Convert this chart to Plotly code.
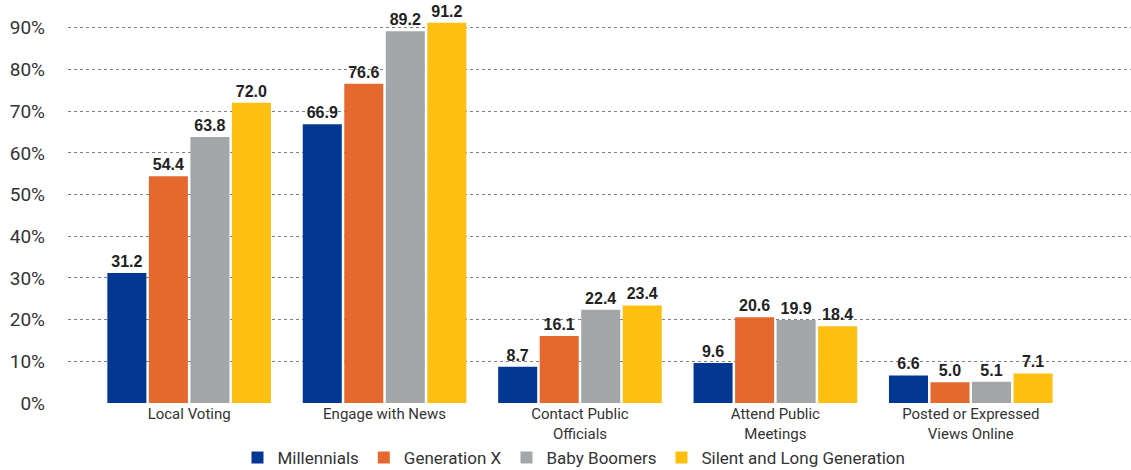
import plotly.graph_objects as go

categories = ["Local Voting", "Engage with News", "Contact Public<br>Officials",
              "Attend Public<br>Meetings", "Posted or Expressed<br>Views Online"]
series_names = ["Millennials", "Generation X", "Baby Boomers", "Silent and Long Generation"]
millennials = [31.2, 66.9, 8.7, 9.6, 6.6]
generation_x = [54.4, 76.6, 16.1, 20.6, 5.0]
baby_boomers = [63.8, 89.2, 22.4, 19.9, 5.1]
silent_long = [72.0, 91.2, 23.4, 18.4, 7.1]
y_ticks = [0, 10, 20, 30, 40, 50, 60, 70, 80, 90]
y_tick_labels = [f"{v}%" for v in y_ticks]

colors = ["#023892", "#E5692E", "#A4A7AA", "#FDC010"]
values = [millennials, generation_x, baby_boomers, silent_long]

fig = go.Figure()
for name, vals, col in zip(series_names, values, colors):
    fig.add_trace(go.Bar(
        name=name, x=categories, y=vals, marker=dict(color=col, line=dict(width=0)),
        text=[f"{v:.1f}" for v in vals], textposition="outside",
        textfont=dict(family="Liberation Sans", size=16, color="#222222"),
        texttemplate="<b>%{text}</b>", cliponaxis=False,
    ))

fig.update_layout(
    width=1131, height=470,
    margin=dict(l=68, r=0, t=7, b=67, autoexpand=False),
    plot_bgcolor="white", paper_bgcolor="white",
    barmode="group", bargap=0.15, bargroupgap=0.06,
    font=dict(family="Roboto", color="#333333"),
    legend=dict(orientation="h", x=0.476, xanchor="center", y=-0.139, yanchor="middle",
                font=dict(size=17, color="#333333"), traceorder="normal",
                itemwidth=30, bgcolor="rgba(0,0,0,0)"),
    xaxis=dict(type="category", range=[-0.62, 4.82], showgrid=False, showline=False,
               ticks="", tickfont=dict(size=15, color="#333333"), automargin=False),
    yaxis=dict(range=[0, 95], tickvals=y_ticks, ticktext=y_tick_labels,
               showgrid=True, gridcolor="#808080", griddash="dot", gridwidth=1,
               zeroline=False, showline=False, ticklabelstandoff=22, automargin=False,
               tickfont=dict(size=19, color="#333333")),
)

fig.write_html("out.html", config={"displayModeBar": False},
               post_script="document.body.style.margin='0px';document.body.style.overflow='hidden';")
